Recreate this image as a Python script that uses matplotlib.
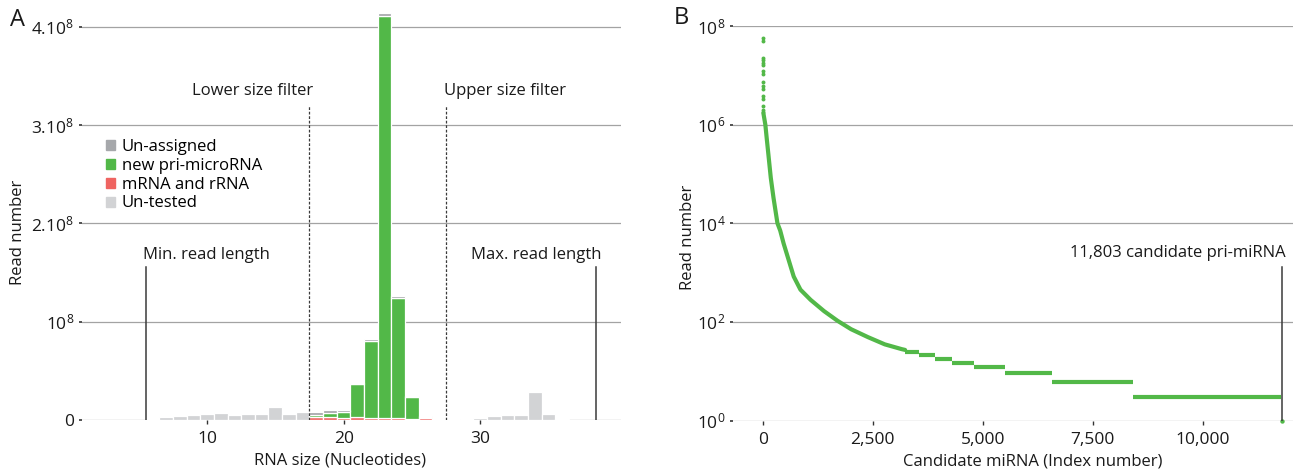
import matplotlib
matplotlib.use("Agg")
import matplotlib.pyplot as plt
from matplotlib import font_manager as fm
from matplotlib.patches import Patch
import numpy as np

# ---------------- data ----------------
# Panel A: read number per RNA size (nucleotides)
untested_sizes = [6, 7, 8, 9, 10, 11, 12, 13, 14, 15, 16, 17,
                  28, 29, 30, 31, 32, 33, 34, 35, 36]
untested_reads = [0.7e6, 2.7e6, 4.4e6, 4.7e6, 6.1e6, 7.5e6, 5.4e6, 6.4e6, 6.1e6, 13.2e6, 6.4e6, 8.1e6,
                  1.0e6, 1.4e6, 1.7e6, 4.0e6, 5.4e6, 5.4e6, 28e6, 6.1e6, 0.7e6]

tested_sizes = [18, 19, 20, 21, 22, 23, 24, 25, 26, 27]
mrna_rrna_reads = [2.8e6, 2.8e6, 2.3e6, 2.7e6, 1.7e6, 1.7e6, 1.7e6, 1.3e6, 1.7e6, 1.0e6]
pri_mirna_reads = [2.5e6, 4.0e6, 6.3e6, 33.8e6, 78.3e6, 409.3e6, 122.3e6, 21.8e6, 1.7e6, 0.0]
unassigned_reads = [3.0e6, 3.4e6, 1.4e6, 1.5e6, 2.0e6, 2.7e6, 2.0e6, 1.3e6, 0.6e6, 0.0]

a_yticks = [0, 1e8, 2e8, 3e8, 4e8]
a_xticks = [10, 20, 30]
size_filters = [17.5, 27.5]      # lower / upper size filter
read_length_limits = [5.5, 38.5]  # min / max read length

# Panel B: ranked read number of candidate pri-miRNAs
top_index = [0, 1, 2, 3, 4, 5, 6, 7, 8, 9, 10, 11, 12, 13, 14, 15]
top_reads = [5.6e7, 4.9e7, 2.2e7, 2.0e7, 1.8e7, 1.6e7, 1.25e7, 1.05e7,
             7.2e6, 6.0e6, 5.2e6, 3.8e6, 3.3e6, 2.4e6, 2.0e6, 1.8e6]
curve_index = [16, 60, 92, 129, 184, 245, 335, 398, 475, 590, 705, 858,
               1088, 1395, 1702, 2009, 2393, 2775, 3159, 3236]
curve_reads = [1.7e6, 1.0e6, 5.2e5, 2.5e5, 8.3e4, 3.3e4, 1.0e4, 7.1e3, 3.9e3, 1.8e3, 830, 450,
               280, 165, 105, 71, 49, 35, 28, 27]
plateau_reads = [24, 21, 18, 15, 12, 9, 6, 3]
plateau_start = [3236, 3543, 3926, 4310, 4809, 5499, 6573, 8413]
plateau_end = [3543, 3926, 4310, 4809, 5499, 6573, 8413, 11790]
last_index = [11803]
last_reads = [1]
n_candidates = 11803
b_xticks = [0, 2500, 5000, 7500, 10000]
b_yticks = [1, 1e2, 1e4, 1e6, 1e8]

# ---------------- style ----------------
names = {f.name for f in fm.fontManager.ttflist}
text_font = 'Open Sans' if 'Open Sans' in names else 'DejaVu Sans'
tick_font = 'Liberation Sans Narrow' if 'Liberation Sans Narrow' in names else text_font

plt.rcParams['font.family'] = [text_font, 'DejaVu Sans']
plt.rcParams['mathtext.fontset'] = 'custom'
plt.rcParams['mathtext.rm'] = tick_font
plt.rcParams['mathtext.it'] = tick_font
plt.rcParams['mathtext.bf'] = tick_font

GREEN = '#52b848'
RED = '#ef6461'
UNASSIGNED = '#a6a8ab'
UNTESTED = '#d2d3d5'
GRID = '#a3a3a3'
LINE = '#3a3a3a'
TXT = '#1a1a1a'
FS = 12

W, H = 1297, 471
fig = plt.figure(figsize=(W / 100, H / 100), dpi=100)


def px_axes(left, top, right, bottom):
    return fig.add_axes([left / W, 1 - bottom / H, (right - left) / W, (bottom - top) / H])


def style_axes(ax):
    for s in ax.spines.values():
        s.set_visible(False)
    ax.set_axisbelow(True)
    ax.yaxis.grid(True, color=GRID, lw=0.9)
    ax.xaxis.grid(False)
    ax.tick_params(axis='y', length=2.5, width=1.2, color='#333333', pad=3,
                   labelsize=12.5, labelcolor=TXT)
    ax.tick_params(axis='x', length=3, width=1.0, color='#333333', pad=5,
                   labelsize=12.5, labelcolor=TXT)
    for lab in ax.get_xticklabels() + ax.get_yticklabels():
        lab.set_fontfamily(tick_font)
    ax.xaxis.label.set_va('center')
    ax.yaxis.label.set_va('center')


# ---------------- Panel A ----------------
axA = px_axes(82, 12, 621, 420)
axA.bar(untested_sizes, untested_reads, width=1.0, color=UNTESTED,
        edgecolor='white', linewidth=0.9, zorder=3)
b1 = np.array(mrna_rrna_reads)
b2 = b1 + np.array(pri_mirna_reads)
axA.bar(tested_sizes, mrna_rrna_reads, width=1.0, color=RED,
        edgecolor='white', linewidth=0.9, zorder=3)
axA.bar(tested_sizes, pri_mirna_reads, bottom=b1, width=1.0, color=GREEN,
        edgecolor='white', linewidth=0.9, zorder=3)
axA.bar(tested_sizes, unassigned_reads, bottom=b2, width=1.0, color=UNASSIGNED,
        edgecolor='white', linewidth=0.9, zorder=3)

axA.set_xlim(0.85, 40.3)
axA.set_ylim(0, 4.15e8)
axA.set_yticks(a_yticks)
axA.set_yticklabels(['0', r'$\mathregular{10^8}$', r'$\mathregular{2.10^8}$',
                     r'$\mathregular{3.10^8}$', r'$\mathregular{4.10^8}$'])
axA.set_xticks(a_xticks)
axA.set_xticklabels([str(t) for t in a_xticks])
axA.set_xlabel('RNA size (Nucleotides)', fontsize=FS, color=TXT)
axA.set_ylabel('Read number', fontsize=FS, color=TXT)
style_axes(axA)
axA.xaxis.set_label_coords(0.479, -0.10)
axA.yaxis.set_label_coords(-0.119, 0.46)

tA = axA.get_xaxis_transform()
for xv in size_filters:
    axA.axvline(xv, ymin=0, ymax=0.772, color=LINE, lw=0.9, ls=(0, (2.2, 1.4)), zorder=4)
for xv in read_length_limits:
    axA.axvline(xv, ymin=0, ymax=0.376, color=LINE, lw=1.1, zorder=4)

axA.text(size_filters[0] + 0.3, 0.806, 'Lower size filter', transform=tA,
         ha='right', va='center', fontsize=FS, color=TXT)
axA.text(size_filters[1] - 0.15, 0.806, 'Upper size filter', transform=tA,
         ha='left', va='center', fontsize=FS, color=TXT)
axA.text(read_length_limits[0] - 0.15, 0.404, 'Min. read length', transform=tA,
         ha='left', va='center', fontsize=FS, color=TXT)
axA.text(read_length_limits[1] + 0.35, 0.404, 'Max. read length', transform=tA,
         ha='right', va='center', fontsize=FS, color=TXT)

handles = [Patch(color=UNASSIGNED, label='Un-assigned'),
           Patch(color=GREEN, label='new pri-microRNA'),
           Patch(color=RED, label='mRNA and rRNA'),
           Patch(color=UNTESTED, label='Un-tested')]
axA.legend(handles=handles, loc='upper left', bbox_to_anchor=(106 / W, 1 - 139 / H),
           bbox_transform=fig.transFigure, frameon=False, fontsize=FS,
           handlelength=0.55, handleheight=0.55, handletextpad=0.4,
           labelspacing=0.17, borderpad=0, borderaxespad=0)

fig.text(17 / W, 1 - 20 / H, 'A', fontsize=17, ha='center', va='center', color=TXT)

# ---------------- Panel B ----------------
axB = px_axes(733, 26, 1293, 420.5)
axB.set_yscale('log')
axB.scatter(top_index, top_reads, s=8, color=GREEN, linewidths=0, zorder=3)
axB.plot(curve_index, curve_reads, color=GREEN, lw=3, solid_capstyle='round', zorder=3)
axB.hlines(plateau_reads, plateau_start, plateau_end, color=GREEN, lw=3, zorder=3)
axB.scatter(last_index, last_reads, s=10, color=GREEN, linewidths=0, zorder=3, clip_on=False)

axB.set_xlim(-675, 12052)
axB.set_ylim(1, 1e8)
axB.set_yticks(b_yticks)
axB.set_yticklabels([r'$\mathregular{10^0}$', r'$\mathregular{10^2}$', r'$\mathregular{10^4}$',
                     r'$\mathregular{10^6}$', r'$\mathregular{10^8}$'])
axB.yaxis.set_minor_locator(matplotlib.ticker.NullLocator())
axB.set_xticks(b_xticks)
axB.set_xticklabels(['{:,}'.format(t) for t in b_xticks])
axB.set_xlabel('Candidate miRNA (Index number)', fontsize=FS, color=TXT)
axB.set_ylabel('Read number', fontsize=FS, color=TXT)
style_axes(axB)
axB.xaxis.set_label_coords(0.536, -0.104)
axB.yaxis.set_label_coords(-0.080, 0.463)

axB.axvline(n_candidates, ymin=0, ymax=0.39, color=LINE, lw=1.1, zorder=4)
axB.text(n_candidates + 90, 0.425, '{:,} candidate pri-miRNA'.format(n_candidates),
         transform=axB.get_xaxis_transform(), ha='right', va='center',
         fontsize=FS, color=TXT)

fig.text(681 / W, 1 - 18 / H, 'B', fontsize=17, ha='center', va='center', color=TXT)

fig.savefig('out.png', dpi=100)
